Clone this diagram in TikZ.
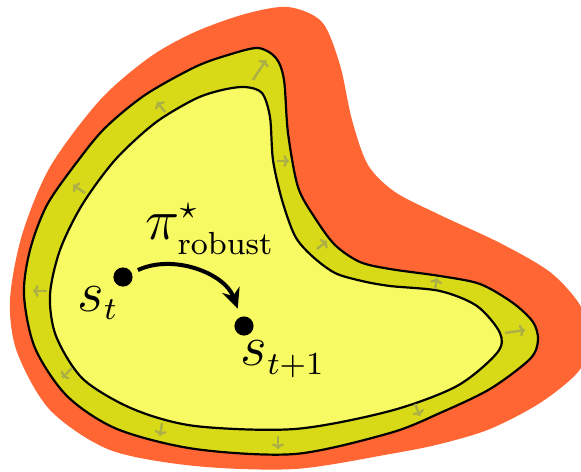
\documentclass[tikz,border=0pt]{standalone}
\usetikzlibrary{arrows.meta}
\DeclareMathSizes{15.5}{15.5}{8}{6}
\definecolor{unsafeorange}{RGB}{255,102,51}
\definecolor{bandolive}{RGB}{216,218,24}
\definecolor{safeyellow}{RGB}{247,250,98}
\definecolor{normalgray}{RGB}{172,174,70}
\begin{document}
\begin{tikzpicture}[x=0.25pt,y=-0.25pt,
  border/.style={draw=black,line width=0.55pt},
  normal/.style={normalgray,line width=0.6pt,-{To[length=1.4pt,width=3pt]}},
  state/.style={circle,fill=black,inner sep=0pt,minimum size=4.8pt},
  lbl/.style={font=\fontsize{15.5}{18}\selectfont}]
\clip (0,0) rectangle (581,472);
% unsafe set
\fill[unsafeorange] plot[smooth cycle] coordinates {(288,7) (322,22) (340,65) (352,120) (368,165) (395,192) (440,215) (500,243) (550,272) (580,305) (592,340) (578,372) (540,403) (490,429) (440,444) (390,454) (295,469) (195,466) (110,450) (50,410) (17,352) (10,300) (22,235) (50,167) (100,100) (150,57) (195,32) (245,14)};
% boundary band
\filldraw[border,fill=bandolive] plot[smooth cycle] coordinates {(258,48) (276,58) (284,80) (288,133) (298,187) (315,218) (335,245) (360,262) (390,269) (440,276) (480,284) (513,303) (533,322) (538,340) (530,359) (490,389) (440,413) (390,433) (295,454) (195,449) (117,429) (67,396) (35,348) (24,295) (30,250) (47,205) (77,162) (105,128) (145,95) (195,67) (228,55)};
% safe set
\filldraw[border,fill=safeyellow] plot[smooth cycle] coordinates {(245,87) (262,93) (270,117) (273,160) (282,200) (295,236) (312,256) (335,273) (362,281) (390,286) (440,291) (477,306) (500,333) (497,353) (457,386) (390,411) (295,429) (195,426) (133,409) (83,379) (56,336) (50,295) (60,250) (82,205) (115,160) (155,123) (195,99) (222,90)};
% outward normals
\draw[normal] (165,112)--(157,102);
\draw[normal] (85,193)--(73,185);
\draw[normal] (47,291)--(33,291);
\draw[normal] (72,368)--(62,378);
\draw[normal] (162,423)--(160,436);
\draw[normal] (278,436)--(278,449);
\draw[normal] (415,404)--(420,416);
\draw[normal] (505,333)--(525,330);
\draw[normal] (435,289)--(437,278);
\draw[normal] (317,249)--(327,241);
\draw[normal] (277,161)--(289,161);
\draw[normal] (253,80)--(266,60);
% states
\node[state] (st) at (123,277) {};
\node[state] (stnext) at (244,326) {};
\node[lbl] (stlabel) at (98,303) {$s_t$};
\node[lbl] (stnextlabel) at (283,359) {$s_{t+1}$};
\node[lbl] (policy) at (210,229) {$\pi^\star_{\mathrm{robust}}$};
\draw[line width=1pt,-{Stealth[length=5pt,width=4.6pt,inset=1.6pt]},shorten <=1.5pt,shorten >=2pt]
  (st) to[out=25,in=110] (stnext);
\end{tikzpicture}
\end{document}
